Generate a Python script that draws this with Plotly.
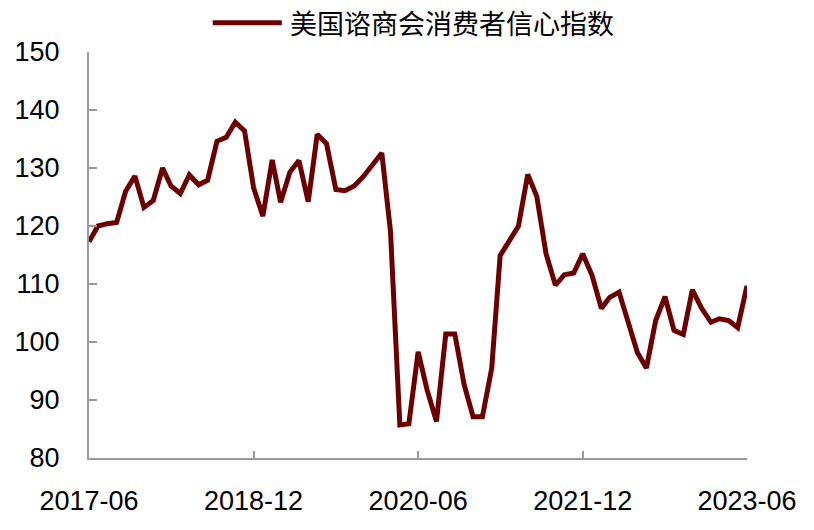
import plotly.graph_objects as go
import pandas as pd

months = pd.date_range("2017-06-01", "2023-06-01", freq="MS").strftime("%Y-%m-%d").tolist()

series_name = "美国谘商会消费者信心指数"
values = [
    117.3, 120.0, 120.4, 120.6, 126.0, 128.6, 123.2,
    124.4, 130.0, 126.9, 125.6, 128.8, 127.1, 127.9, 134.6, 135.3, 137.9, 136.4, 126.6,
    121.7, 131.4, 124.1, 129.3, 131.3, 124.2, 135.8, 134.2, 126.3, 126.1, 126.9, 128.5,
    130.7, 132.6, 119.0, 85.7, 85.9, 98.3, 91.7, 86.3, 101.4, 101.4, 92.7, 87.1,
    87.1, 95.5, 114.9, 117.3, 120.0, 128.9, 125.1, 115.2, 109.8, 111.6, 111.9, 115.2,
    111.5, 105.8, 107.7, 108.6, 103.2, 98.2, 95.5, 103.7, 107.8, 102.0, 101.3, 109.0,
    105.8, 103.4, 104.0, 103.7, 102.5, 109.7,
]

tick_vals = ["2017-06-01", "2018-12-01", "2020-06-01", "2021-12-01", "2023-06-01"]
tick_text = ["2017-06", "2018-12", "2020-06", "2021-12", "2023-06"]
y_ticks = [80, 90, 100, 110, 120, 130, 140, 150]

line_color = "#6B0000"
font_family = "Liberation Sans, Arial, Noto Sans CJK SC, sans-serif"

fig = go.Figure()
fig.add_trace(go.Scatter(
    x=months, y=values, mode="lines", name=series_name,
    line=dict(color=line_color, width=5), showlegend=False,
))

# legend drawn as a key line plus label above the plot area
legend_y = 1.072
fig.add_shape(type="line", xref="paper", yref="paper",
              x0=0.188, x1=0.293, y0=legend_y, y1=legend_y,
              line=dict(color=line_color, width=5))
fig.add_annotation(xref="paper", yref="paper", x=0.302, y=legend_y,
                   xanchor="left", yanchor="middle", showarrow=False,
                   text=series_name,
                   font=dict(family="Noto Sans CJK SC, sans-serif", size=27, color="black"))

fig.update_layout(
    width=814, height=530,
    margin=dict(l=81, r=75, t=44, b=80, autoexpand=False),
    paper_bgcolor="white", plot_bgcolor="white",
    font=dict(family=font_family, size=27, color="black"),
    showlegend=False,
    xaxis=dict(
        type="date",
        range=["2017-06-01", "2023-06-01"],
        tickvals=tick_vals, ticktext=tick_text,
        showgrid=False, zeroline=False,
        showline=True, linecolor="#999999", linewidth=2,
        ticks="inside", ticklen=7, tickcolor="#999999", tickwidth=1.5,
        ticklabelstandoff=18,
        tickfont=dict(size=27),
    ),
    yaxis=dict(
        range=[80, 150], tickvals=y_ticks,
        showgrid=False, zeroline=False,
        showline=True, linecolor="#999999", linewidth=2,
        ticks="inside", ticklen=8, tickcolor="#999999", tickwidth=1.5,
        ticklabelstandoff=22,
        tickfont=dict(size=27),
    ),
)

fig.write_html("out.html")
